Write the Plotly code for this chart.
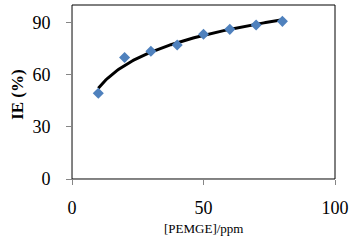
import numpy as np
import plotly.graph_objects as go

conc = [10, 20, 30, 40, 50, 60, 70, 80]
ie = [49.3, 69.8, 73.4, 77.0, 83.2, 86.0, 88.5, 90.6]
x_ticks = [0, 50, 100]
y_ticks = [0, 30, 60, 90]

# logarithmic trendline fitted to the data
a, b = np.polyfit(np.log(conc), ie, 1)
xf = np.linspace(min(conc), max(conc), 100)
yf = a * np.log(xf) + b

fig = go.Figure()
fig.add_trace(go.Scatter(x=xf, y=yf, mode="lines",
                         line=dict(color="black", width=3), showlegend=False))
fig.add_trace(go.Scatter(x=conc, y=ie, mode="markers",
                         marker=dict(symbol="diamond", size=8.5, color="#4F81BD",
                                     line=dict(width=0)), showlegend=False))

font_serif = "Liberation Serif, Times New Roman, serif"
fig.update_layout(
    width=357, height=242,
    margin=dict(l=71.5, r=22, t=5, b=62.7),
    paper_bgcolor="white", plot_bgcolor="white",
    font=dict(family=font_serif, color="black"),
    xaxis=dict(range=[0, 100], tickvals=x_ticks, showgrid=False, zeroline=False,
               showline=True, linecolor="#868686", linewidth=1, automargin=False,
               ticks="outside", ticklen=5, tickcolor="#868686",
               tickfont=dict(size=18, family=font_serif), ticklabelstandoff=7),
    yaxis=dict(range=[0, 100], tickvals=y_ticks, showgrid=False, zeroline=False,
               showline=True, linecolor="#868686", linewidth=1, automargin=False,
               ticks="outside", ticklen=5, tickcolor="#868686",
               tickfont=dict(size=18, family=font_serif), ticklabelstandoff=12),
    shapes=[dict(type="rect", xref="paper", yref="paper", x0=0, x1=1, y0=0, y1=1,
                 line=dict(color="black", width=1), layer="below")],
    annotations=[
        dict(text="[PEMGE]/ppm", xref="paper", yref="paper", x=0.5, y=-0.285,
             xanchor="center", yanchor="middle", showarrow=False,
             font=dict(size=13, family=font_serif)),
        dict(text="<b>IE (%)</b>", xref="paper", yref="paper", x=-0.205, y=0.484,
             xanchor="center", yanchor="middle", showarrow=False, textangle=-90,
             font=dict(size=17, family=font_serif)),
    ],
)

fig.write_html("out.html", config={"displayModeBar": False},
               post_script="document.body.style.margin='0';document.body.style.overflow='hidden';")
